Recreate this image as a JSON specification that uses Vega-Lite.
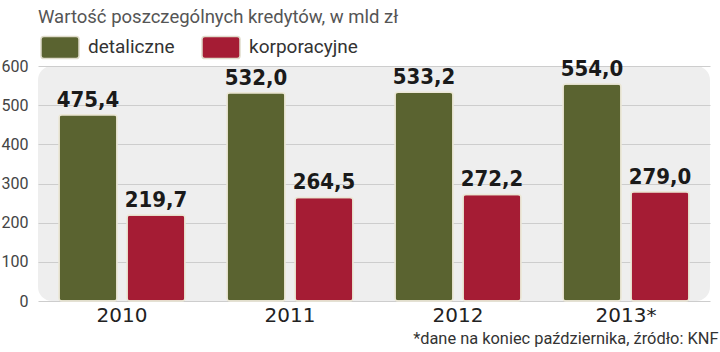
{
  "$schema": "https://vega.github.io/schema/vega-lite/v6.json",
  "width": 672,
  "height": 235,
  "autosize": {"type": "none"},
  "padding": {"left": 38, "top": 66, "right": 10, "bottom": 51},
  "background": "white",
  "title": {
    "text": "Wartość poszczególnych kredytów, w mld zł",
    "anchor": "start",
    "frame": "group",
    "baseline": "alphabetic",
    "offset": 0,
    "dy": 14,
    "font": "Roboto",
    "fontSize": 18.5,
    "fontWeight": "normal",
    "color": "#555555"
  },
  "data": {
    "values": [
      {"year": "2010", "type": "detaliczne", "value": 475.4, "label": "475,4"},
      {"year": "2010", "type": "korporacyjne", "value": 219.7, "label": "219,7"},
      {"year": "2011", "type": "detaliczne", "value": 532.0, "label": "532,0"},
      {"year": "2011", "type": "korporacyjne", "value": 264.5, "label": "264,5"},
      {"year": "2012", "type": "detaliczne", "value": 533.2, "label": "533,2"},
      {"year": "2012", "type": "korporacyjne", "value": 272.2, "label": "272,2"},
      {"year": "2013*", "type": "detaliczne", "value": 554.0, "label": "554,0"},
      {"year": "2013*", "type": "korporacyjne", "value": 279.0, "label": "279,0"}
    ]
  },
  "encoding": {
    "x": {
      "field": "year",
      "type": "nominal",
      "sort": null,
      "scale": {"paddingInner": 0, "paddingOuter": 0},
      "axis": {
        "title": "*dane na koniec października, źródło: KNF",
        "titleAnchor": "end",
        "titleAlign": "right",
        "titleX": 680,
        "titleFont": "Roboto",
        "titleFontSize": 16.4,
        "titleFontWeight": "normal",
        "titleColor": "#333333",
        "titlePadding": 5,
        "labelAngle": 0,
        "labelFont": "DejaVu Sans",
        "labelFontSize": 20,
        "labelColor": "#222222",
        "labelPadding": 4,
        "ticks": false,
        "domain": false
      }
    },
    "xOffset": {
      "field": "type",
      "type": "nominal",
      "scale": {"paddingInner": 0.147, "paddingOuter": 0.309}
    },
    "y": {
      "field": "value",
      "type": "quantitative",
      "scale": {"domain": [0, 600]},
      "axis": {
        "title": null,
        "values": [0, 100, 200, 300, 400, 500, 600],
        "grid": true,
        "gridColor": "#cdcdcd",
        "gridWidth": 1,
        "domain": false,
        "ticks": false,
        "labelPadding": 10,
        "labelFont": "Roboto",
        "labelFontSize": 16,
        "labelColor": "#444444"
      }
    }
  },
  "layer": [
    {
      "mark": {"type": "bar", "cornerRadius": 3, "stroke": "#ebe7d6", "strokeWidth": 1.5},
      "encoding": {
        "color": {
          "field": "type",
          "type": "nominal",
          "scale": {"domain": ["detaliczne", "korporacyjne"], "range": ["#5a6330", "#a51c34"]},
          "legend": {
            "orient": "none",
            "legendX": 2,
            "legendY": -39,
            "direction": "horizontal",
            "title": null,
            "padding": 0,
            "symbolType": "M-0.85,-0.58H0.85Q1,-0.58 1,-0.43V0.43Q1,0.58 0.85,0.58H-0.85Q-1,0.58 -1,0.43V-0.43Q-1,-0.58 -0.85,-0.58Z",
            "symbolSize": 1444,
            "symbolOpacity": 1,
            "symbolStrokeColor": "#e0dccb",
            "symbolStrokeWidth": 1.5,
            "labelFont": "Roboto",
            "labelFontSize": 19,
            "labelColor": "#333333",
            "labelOffset": 8,
            "columnPadding": 24
          }
        }
      }
    },
    {
      "mark": {
        "type": "text",
        "baseline": "alphabetic",
        "dy": -8,
        "font": "DejaVu Sans Condensed",
        "fontWeight": "bold",
        "fontSize": 22,
        "color": "#1a1a1a"
      },
      "encoding": {
        "text": {"field": "label", "type": "nominal"}
      }
    }
  ],
  "config": {
    "font": "Roboto",
    "view": {"fill": "#eeeeee", "stroke": null, "cornerRadius": 14}
  }
}
